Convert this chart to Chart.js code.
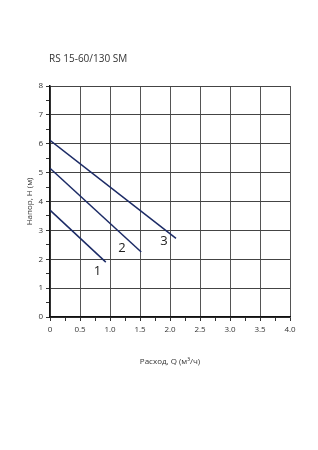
<!DOCTYPE html>
<html>
<head>
<meta charset="utf-8">
<script src="https://cdn.jsdelivr.net/npm/chart.js@4/dist/chart.umd.min.js"></script>
<style>
  html, body { margin: 0; padding: 0; background: #fff; }
  #wrap { width: 318px; height: 450px; position: relative; }
</style>
</head>
<body>
<div id="wrap"><canvas id="myChart"></canvas></div>
<script>
  const chartTitle = 'RS 15-60/130 SM';
  const xTitle = 'Расход, Q (м³/ч)';
  const yTitle = 'Напор, H (м)';

  // Кривые 1, 2, 3 (Q, H)
  const curve1Q = [0, 0.93];
  const curve1H = [3.7, 1.9];
  const curve2Q = [0, 1.52];
  const curve2H = [5.15, 2.25];
  const curve3Q = [0, 2.1];
  const curve3H = [6.12, 2.72];

  // Подписи кривых
  const curveLabels = ['1', '2', '3'];
  const labelQ = [0.79, 1.2, 1.9];
  const labelH = [1.6, 2.38, 2.63];

  const lineColor = '#1c2b66';
  const toPoints = (q, h) => q.map((v, i) => ({ x: v, y: h[i] }));

  const curveLabelPlugin = {
    id: 'curveLabels',
    afterDatasetsDraw(chart) {
      const { ctx, scales } = chart;
      ctx.save();
      ctx.font = '13px "Open Sans", sans-serif';
      ctx.fillStyle = '#222';
      ctx.textAlign = 'center';
      ctx.textBaseline = 'middle';
      curveLabels.forEach((t, i) => {
        ctx.fillText(t, scales.x.getPixelForValue(labelQ[i]), scales.y.getPixelForValue(labelH[i]));
      });
      ctx.restore();
    }
  };

  const titlePlugin = {
    id: 'topTitle',
    afterDraw(chart) {
      const ctx = chart.ctx;
      ctx.save();
      ctx.font = '10px "Open Sans", sans-serif';
      ctx.fillStyle = '#333';
      ctx.textAlign = 'left';
      ctx.textBaseline = 'middle';
      ctx.fillText(chartTitle, 49, 59);
      ctx.restore();
    }
  };

  const ctx = document.getElementById('myChart');
  new Chart(ctx, {
    type: 'line',
    data: {
      datasets: [
        { data: toPoints(curve1Q, curve1H), borderColor: lineColor, borderWidth: 1.5, pointRadius: 0, fill: false },
        { data: toPoints(curve2Q, curve2H), borderColor: lineColor, borderWidth: 1.5, pointRadius: 0, fill: false },
        { data: toPoints(curve3Q, curve3H), borderColor: lineColor, borderWidth: 1.5, pointRadius: 0, fill: false }
      ]
    },
    options: {
      responsive: true,
      maintainAspectRatio: false,
      animation: false,
      layout: { padding: { top: 86, right: 28, bottom: 83, left: 25 } },
      plugins: { legend: { display: false }, tooltip: { enabled: false } },
      scales: {
        x: {
          type: 'linear',
          min: 0,
          max: 4,
          afterFit: (s) => { s.height = 50; },
          border: { color: '#111', width: 1.5 },
          grid: {
            color: (c) => (Math.round(c.tick.value * 4) % 2 === 0 ? '#555' : 'rgba(0,0,0,0)'),
            tickColor: '#333',
            tickLength: 4,
            lineWidth: 1
          },
          ticks: {
            stepSize: 0.25,
            autoSkip: false,
            maxRotation: 0,
            padding: 4,
            color: '#333',
            font: { family: 'Open Sans', size: 8 },
            callback: (v) => {
              if (Math.round(v * 4) % 2 !== 0) return '';
              return v === 0 ? '0' : v.toFixed(1);
            }
          },
          title: {
            display: true,
            text: xTitle,
            color: '#333',
            font: { family: 'Open Sans', size: 8 },
            padding: { top: 0, bottom: 0 }
          }
        },
        y: {
          type: 'linear',
          min: 0,
          max: 8,
          afterFit: (s) => { s.width = 25; },
          border: { color: '#111', width: 1.5 },
          grid: {
            color: (c) => (Math.round(c.tick.value * 2) % 2 === 0 ? '#444' : 'rgba(0,0,0,0)'),
            tickColor: '#333',
            tickLength: 4,
            lineWidth: 1
          },
          ticks: {
            stepSize: 0.5,
            autoSkip: false,
            padding: 3,
            color: '#333',
            font: { family: 'Open Sans', size: 8 },
            callback: (v) => (Math.round(v * 2) % 2 === 0 ? String(v) : '')
          },
          title: {
            display: true,
            text: yTitle,
            color: '#333',
            font: { family: 'Open Sans', size: 8 },
            padding: 0
          }
        }
      }
    },
    plugins: [curveLabelPlugin, titlePlugin]
  });
</script>
</body>
</html>
